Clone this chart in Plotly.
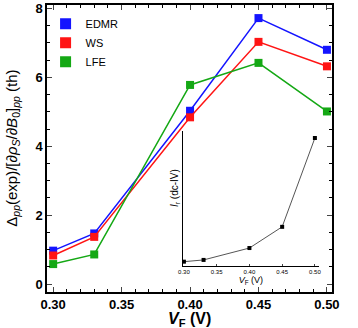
import plotly.graph_objects as go

vf = [0.30, 0.33, 0.40, 0.45, 0.50]
edmr = [0.97, 1.47, 5.03, 7.72, 6.80]
ws = [0.83, 1.37, 4.84, 7.03, 6.32]
lfe = [0.58, 0.86, 5.78, 6.42, 5.01]

# inset: I_r from dc-IV, arbitrary units
inset_vf = [0.30, 0.33, 0.40, 0.45, 0.50]
inset_ir = [0.032, 0.045, 0.133, 0.29, 0.948]

series = [("EDMR", edmr, "#1414ff"), ("WS", ws, "#ff1414"), ("LFE", lfe, "#14a814")]

fig = go.Figure()
for name, vals, col in series:
    fig.add_trace(go.Scatter(x=vf, y=vals, mode="lines+markers", showlegend=False,
                             line=dict(color=col, width=1.5),
                             marker=dict(symbol="square", size=8, color=col)))
for name, vals, col in series:
    fig.add_trace(go.Scatter(x=[None], y=[None], mode="markers", name=name,
                             marker=dict(symbol="square", size=11, color=col)))

fig.add_trace(go.Scatter(x=inset_vf, y=inset_ir, mode="lines+markers", showlegend=False,
                         xaxis="x2", yaxis="y2",
                         line=dict(color="#555555", width=1),
                         marker=dict(symbol="square", size=4, color="black")))

font = "Liberation Sans, Arial, sans-serif"
fig.update_layout(
    width=358, height=328,
    margin=dict(l=47, r=26, t=5, b=36),
    paper_bgcolor="white", plot_bgcolor="white",
    font=dict(family=font, color="black"),
    legend=dict(x=-0.005, y=0.985, xanchor="left", yanchor="top",
                font=dict(size=11), bgcolor="rgba(0,0,0,0)", itemwidth=30,
                tracegroupgap=0),
    xaxis=dict(range=[0.2955, 0.5037], tickvals=[0.30, 0.35, 0.40, 0.45, 0.50],
               ticktext=["0.30", "0.35", "0.40", "0.45", "0.50"],
               ticks="inside", ticklen=5, tickwidth=1, mirror="allticks",
               showline=True, linecolor="black", linewidth=1.5, showgrid=False,
               zeroline=False, tickfont=dict(size=13, weight="bold"), automargin=False,
               minor=dict(dtick=0.01, ticks="inside", ticklen=3, tickcolor="black")),
    yaxis=dict(range=[-0.23, 8.1], tickvals=[0, 2, 4, 6, 8],
               ticks="inside", ticklen=5, tickwidth=1, mirror="allticks",
               showline=True, linecolor="black", linewidth=1.5, showgrid=False,
               zeroline=False, tickfont=dict(size=13, weight="bold"), automargin=False,
               minor=dict(dtick=0.5, ticks="inside", ticklen=3, tickcolor="black")),
    xaxis2=dict(domain=[0.477, 0.954], anchor="y2", range=[0.2985, 0.5061],
                tickvals=[0.30, 0.35, 0.40, 0.45, 0.50],
                ticktext=["0.30", "0.35", "0.40", "0.45", "0.50"],
                ticks="inside", ticklen=2, showline=True, linecolor="black",
                linewidth=1, showgrid=False, zeroline=False, automargin=False,
                tickfont=dict(size=6),
                title=dict(text="<i>V</i><sub>F</sub> (V)", font=dict(size=9), standoff=2)),
    yaxis2=dict(domain=[0.0906, 0.561], anchor="x2", range=[0, 1],
                showticklabels=False, ticks="", showline=True, linecolor="black",
                linewidth=1, showgrid=False, zeroline=False, automargin=False),
)

fig.add_annotation(xref="paper", yref="paper", x=-0.122, y=0.5, xanchor="center",
                   yanchor="middle", textangle=-90, showarrow=False, font=dict(size=15),
                   text="Δ<sub><i>pp</i></sub>(exp)/[∂<i>ρ</i><sub><i>S</i></sub>/∂<i>B</i><sub>0</sub>]<sub><i>pp</i></sub> (th)")
fig.add_annotation(xref="paper", yref="paper", x=0.5, y=-0.097, xanchor="center",
                   yanchor="middle", showarrow=False, font=dict(size=16),
                   text="<b><i>V</i><sub>F</sub> (V)</b>")
fig.add_annotation(xref="paper", yref="paper", x=0.449, y=0.362, xanchor="center",
                   yanchor="middle", textangle=-90, showarrow=False, font=dict(size=10),
                   text="<i>I</i><sub>r</sub> (dc-IV)")

fig.write_html("out.html", config={"displayModeBar": False},
               post_script="document.body.style.margin='0';document.body.style.overflow='hidden';")
